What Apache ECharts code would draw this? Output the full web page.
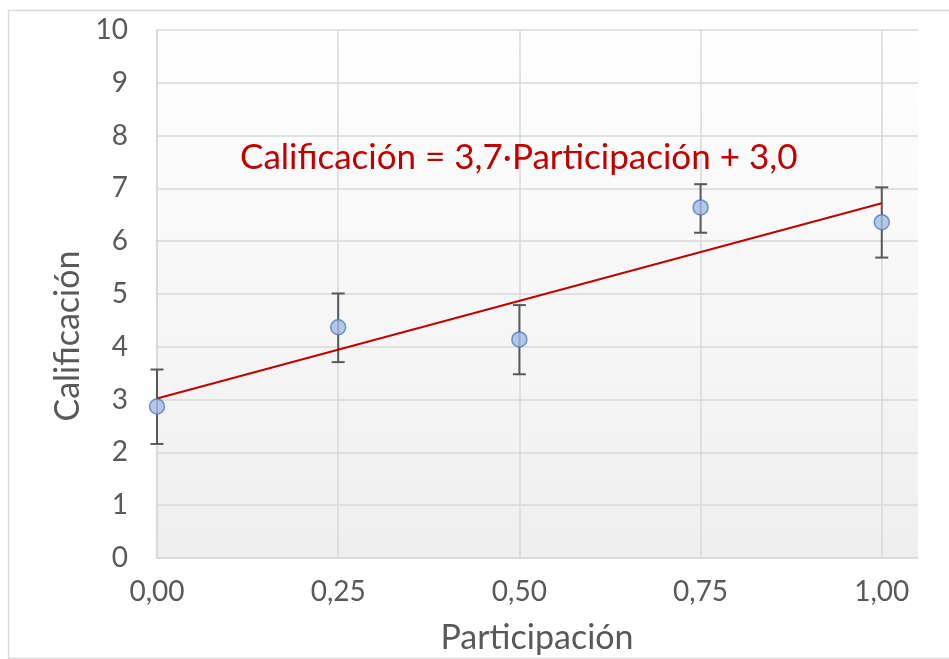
<!DOCTYPE html>
<html>
<head>
<meta charset="utf-8">
<script src="https://cdn.jsdelivr.net/npm/echarts@6/dist/echarts.min.js"></script>
<style>
html,body{margin:0;padding:0;background:#fff;}
#chart{width:949px;height:659px;}
</style>
</head>
<body>
<div id="chart"></div>
<script>
// Data
const participacion = [0, 0.25, 0.5, 0.75, 1.0];
const calificacion = [2.87, 4.37, 4.14, 6.64, 6.36];
const errLow = [2.16, 3.71, 3.48, 6.16, 5.69];
const errHigh = [3.57, 5.01, 4.79, 7.08, 7.02];
const trendSlope = 3.7;
const trendIntercept = 3.02;
const trendRange = [0, 1];
const equationText = 'Calificación = 3,7·Participación + 3,0';
const xTitle = 'Participación';
const yTitle = 'Calificación';

const FONT = 'Lato';
const TXT = '#595959';

const scatterData = participacion.map((x, i) => [x, calificacion[i]]);
const errData = participacion.map((x, i) => [x, errLow[i], errHigh[i]]);
const trendData = trendRange.map(x => [x, trendSlope * x + trendIntercept]);

const chart = echarts.init(document.getElementById('chart'));
chart.setOption({
  animation: false,
  backgroundColor: '#ffffff',
  grid: {
    left: 157, top: 30, right: 31, bottom: 101,
    show: true,
    borderWidth: 0,
    backgroundColor: new echarts.graphic.LinearGradient(0, 0, 0, 1, [
      {offset: 0, color: '#ffffff'},
      {offset: 1, color: '#efefef'}
    ])
  },
  xAxis: {
    type: 'value', min: 0, max: 1.05, interval: 0.25,
    axisLine: {show: true, lineStyle: {color: '#d9d9d9', width: 1.5}},
    axisTick: {show: false},
    splitLine: {show: true, lineStyle: {color: ['#d9d9d9','#d9d9d9','#d9d9d9','#d9d9d9','#d9d9d9','rgba(0,0,0,0)'], width: 1.5}},
    axisLabel: {
      showMaxLabel: false,
      color: TXT, fontFamily: FONT, fontSize: 28, margin: 20,
      formatter: v => v.toFixed(2).replace('.', ',')
    }
  },
  yAxis: {
    type: 'value', min: 0, max: 10, interval: 1,
    axisLine: {show: true, lineStyle: {color: '#d9d9d9', width: 1.5}},
    axisTick: {show: false},
    splitLine: {show: true, lineStyle: {color: '#d9d9d9', width: 1.5}},
    axisLabel: {color: TXT, fontFamily: FONT, fontSize: 28, margin: 29}
  },
  series: [
    {
      type: 'custom',
      z: 2,
      data: errData,
      renderItem: function (params, api) {
        const x = api.value(0);
        const lo = api.coord([x, api.value(1)]);
        const hi = api.coord([x, api.value(2)]);
        const cap = 6.5;
        const style = {stroke: '#595959', lineWidth: 2};
        return {
          type: 'group',
          children: [
            {type: 'line', shape: {x1: lo[0], y1: lo[1], x2: hi[0], y2: hi[1]}, style: style},
            {type: 'line', shape: {x1: lo[0] - cap, y1: lo[1], x2: lo[0] + cap, y2: lo[1]}, style: style},
            {type: 'line', shape: {x1: hi[0] - cap, y1: hi[1], x2: hi[0] + cap, y2: hi[1]}, style: style}
          ]
        };
      }
    },
    {
      type: 'line',
      z: 3,
      data: trendData,
      symbol: 'none',
      lineStyle: {color: '#c00000', width: 2}
    },
    {
      type: 'scatter',
      z: 4,
      data: scatterData,
      symbol: 'circle',
      symbolSize: 15,
      itemStyle: {color: '#a5bce3', borderColor: '#4a7bc6', borderWidth: 1.5}
    }
  ],
  graphic: [
    {
      type: 'rect', z: -10, silent: true,
      shape: {x: 8.5, y: 10.5, width: 1000, height: 648},
      style: {fill: 'none', stroke: '#d9d9d9', lineWidth: 1.5}
    },
    {
      type: 'text', z: 10,
      x: 240, y: 158,
      style: {text: equationText, fill: '#c00000', font: '35px ' + FONT, align: 'left', verticalAlign: 'middle'}
    },
    {
      type: 'text', z: 10,
      x: 537, y: 638,
      style: {text: xTitle, fill: TXT, font: '34px ' + FONT, align: 'center', verticalAlign: 'middle'}
    },
    {
      type: 'text', z: 10,
      x: 68, y: 336, rotation: Math.PI / 2,
      style: {text: yTitle, fill: TXT, font: '34px ' + FONT, align: 'center', verticalAlign: 'middle'}
    }
  ]
});
</script>
</body>
</html>
